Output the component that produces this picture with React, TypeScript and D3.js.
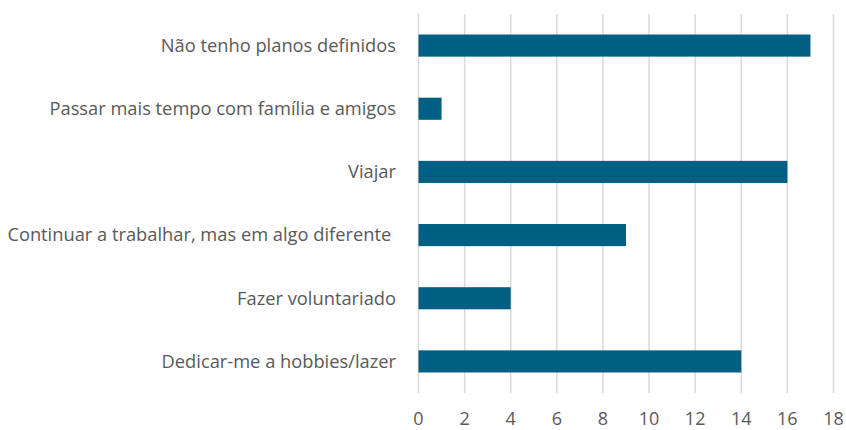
import React, { useEffect, useRef } from 'react'
import * as d3 from 'd3'

const categories = [
  'Não tenho planos definidos',
  'Passar mais tempo com família e amigos',
  'Viajar',
  'Continuar a trabalhar, mas em algo diferente ',
  'Fazer voluntariado',
  'Dedicar-me a hobbies/lazer',
]
const values = [17, 1, 16, 9, 4, 14]
const xTicks = [0, 2, 4, 6, 8, 10, 12, 14, 16, 18]

const width = 846, height = 430
const left = 418.5, right = 833.5, top = 14, bottom = 393
const font = '"Open Sans", sans-serif'

export default function App() {
  const ref = useRef<SVGSVGElement>(null)

  useEffect(() => {
    const svg = d3.select(ref.current)
    svg.selectAll('*').remove()

    const x = d3.scaleLinear().domain([0, 18]).range([left, right])
    const y = d3.scaleBand().domain(categories).range([top, bottom]).paddingInner(0.65).paddingOuter(0.325)

    // gridlines
    svg.append('g')
      .selectAll('line')
      .data(xTicks)
      .join('line')
      .attr('x1', d => x(d)).attr('x2', d => x(d))
      .attr('y1', top).attr('y2', bottom)
      .attr('stroke', '#d9d9d9')
      .attr('stroke-width', 1.5)

    // bars
    svg.append('g')
      .selectAll('rect')
      .data(values)
      .join('rect')
      .attr('x', x(0))
      .attr('y', (d, i) => y(categories[i])!)
      .attr('width', d => x(d) - x(0))
      .attr('height', y.bandwidth())
      .attr('fill', '#005f83')

    // category labels
    svg.append('g')
      .selectAll('text')
      .data(categories)
      .join('text')
      .attr('x', 396)
      .attr('y', d => y(d)! + y.bandwidth() / 2)
      .attr('dy', '0.35em')
      .attr('text-anchor', 'end')
      .style('white-space', 'pre')
      .attr('font-family', font)
      .attr('font-size', 18.3)
      .attr('fill', '#595959')
      .text(d => d)

    // tick labels
    svg.append('g')
      .selectAll('text')
      .data(xTicks)
      .join('text')
      .attr('x', d => x(d))
      .attr('y', 425)
      .attr('text-anchor', 'middle')
      .attr('font-family', font)
      .attr('font-size', 18)
      .attr('fill', '#595959')
      .text(d => d)
  }, [])

  return (
    <svg ref={ref} width={width} height={height}
      style={{ position: 'absolute', left: 0, top: 0, background: '#fff' }} />
  )
}
